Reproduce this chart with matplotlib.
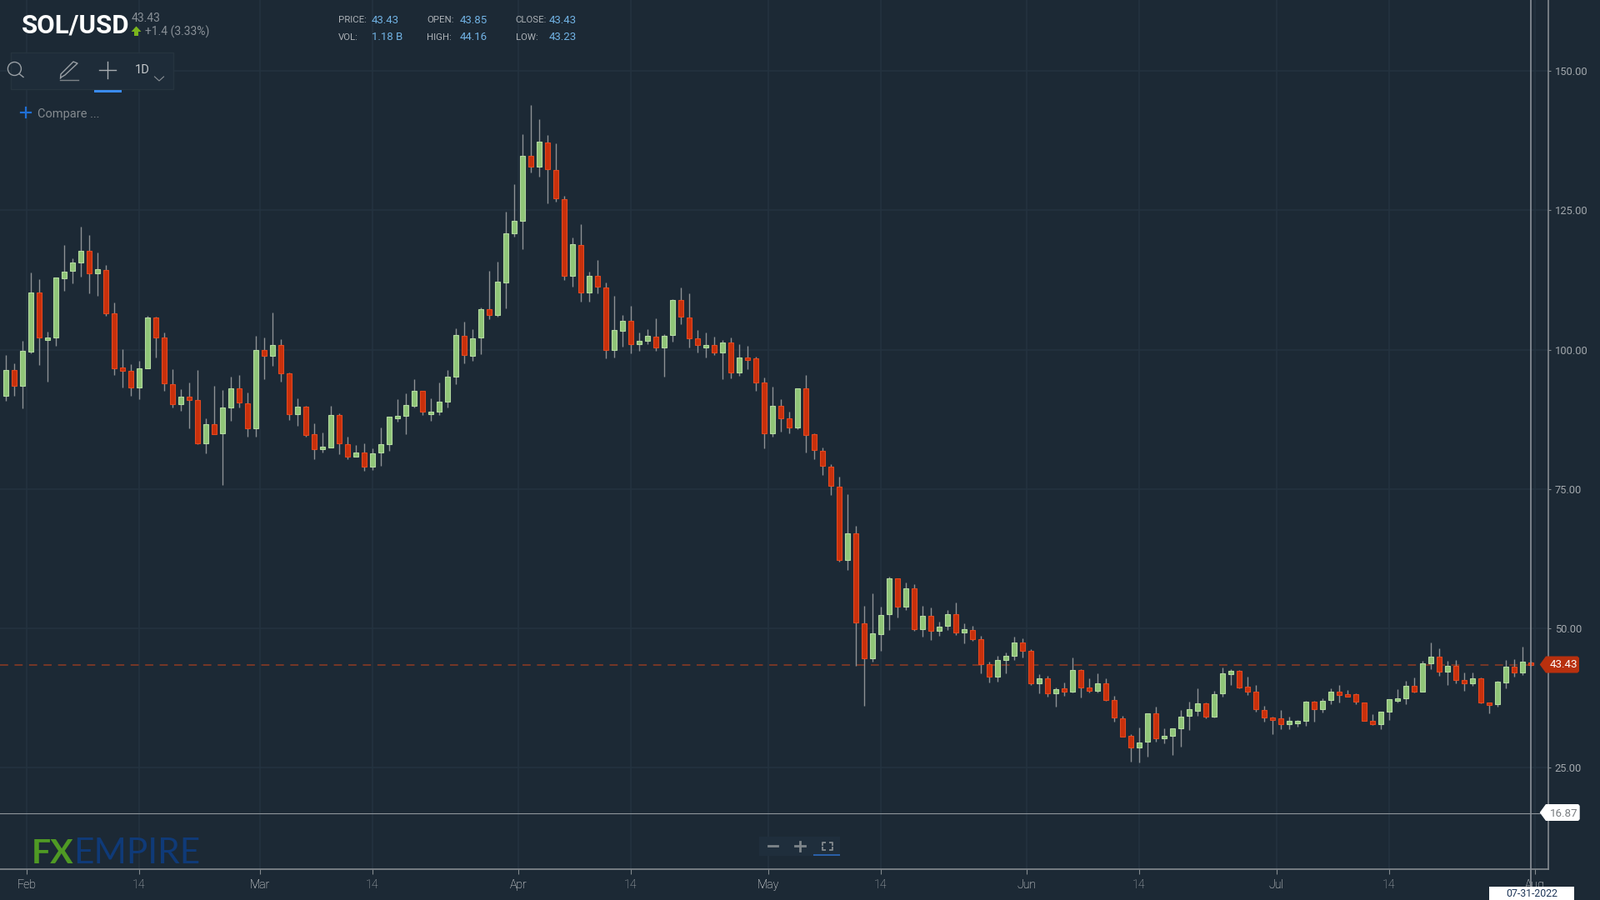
import matplotlib
matplotlib.use('Agg')
import matplotlib.pyplot as plt
from matplotlib.patches import Polygon, Rectangle, Circle

# Daily SOL/USD candles
opens = [91.67, 96.36, 93.51, 99.70, 110.23, 101.70, 102.15, 112.78, 114.12, 115.62, 117.72, 113.67, 114.32, 106.49, 96.76, 96.16,
         93.16, 96.71, 105.79, 102.20, 93.76, 90.17, 91.52, 90.97, 83.18, 86.63, 84.93, 89.62, 93.01, 90.37, 85.83, 99.95,
         98.95, 100.85, 95.81, 88.47, 89.82, 84.78, 82.14, 82.49, 88.32, 83.08, 80.79, 81.59, 78.94, 81.54, 83.03, 87.68,
         88.07, 89.92, 92.61, 88.42, 88.82, 90.67, 95.16, 102.54, 98.95, 102.15, 107.24, 106.19, 112.03, 120.86, 123.10, 134.73,
         132.83, 137.18, 132.29, 127.05, 113.17, 118.81, 110.18, 113.22, 111.13, 99.90, 103.44, 105.14, 101.00, 101.60, 102.35, 100.45,
         102.69, 108.93, 105.74, 102.00, 100.45, 100.90, 99.50, 101.25, 95.96, 98.60, 98.45, 94.11, 84.93, 89.87, 87.62, 86.02,
         93.01, 84.78, 81.78, 78.99, 75.45, 62.27, 67.01, 50.90, 44.66, 48.95, 52.54, 58.93, 53.84, 57.13, 49.90, 52.19,
         49.55, 50.50, 52.59, 49.30, 49.75, 48.10, 43.61, 41.31, 44.31, 45.01, 47.40, 45.91, 40.17, 41.02, 38.32, 39.17,
         38.62, 42.51, 39.32, 38.82, 40.07, 37.22, 33.93, 30.69, 28.59, 29.69, 34.83, 30.24, 30.79, 32.08, 34.33, 35.28,
         36.52, 34.13, 38.27, 41.81, 42.31, 39.52, 38.57, 35.38, 34.08, 33.88, 32.83, 33.03, 33.43, 36.92, 35.53, 37.17,
         38.57, 38.22, 38.22, 36.72, 33.48, 32.83, 35.08, 37.02, 37.52, 39.72, 38.67, 43.71, 44.96, 42.21, 43.21, 40.67,
         40.17, 41.02, 36.67, 36.42, 40.32, 43.06, 42.01, 43.85]
highs = [99.10, 97.61, 101.60, 113.87, 112.58, 103.24, 112.97, 118.81, 116.37, 122.11, 120.51, 117.47, 115.22, 108.48, 100.10, 97.46,
         98.05, 106.09, 105.89, 103.09, 96.51, 92.92, 94.06, 96.31, 87.68, 93.51, 92.77, 95.21, 95.41, 92.37, 102.50, 102.10,
         106.59, 101.90, 95.91, 91.27, 89.92, 86.78, 85.13, 89.92, 88.62, 84.33, 82.89, 83.18, 82.29, 86.03, 88.02, 91.12,
         92.22, 94.66, 92.66, 91.27, 94.11, 96.36, 103.84, 104.94, 103.64, 107.58, 114.07, 115.77, 124.75, 129.64, 138.62, 143.81,
         141.27, 138.42, 136.93, 127.54, 120.06, 122.55, 113.92, 116.12, 112.08, 109.58, 106.24, 107.88, 103.09, 103.64, 105.64, 102.84,
         108.98, 111.08, 110.13, 103.59, 103.09, 102.35, 101.75, 102.15, 101.00, 100.65, 98.75, 95.01, 93.36, 91.06, 88.87, 93.11,
         95.41, 84.93, 82.48, 79.49, 77.19, 74.05, 68.46, 53.99, 56.28, 53.84, 59.23, 58.98, 58.18, 57.98, 53.99, 53.69,
         51.24, 53.24, 54.59, 50.85, 50.45, 48.65, 43.96, 45.01, 45.61, 48.45, 48.20, 46.20, 41.71, 41.51, 39.42, 40.22,
         44.71, 42.61, 40.97, 41.86, 40.97, 37.97, 34.38, 31.04, 32.28, 34.83, 35.93, 32.13, 32.03, 35.33, 36.82, 39.22,
         36.77, 38.72, 42.96, 42.61, 42.46, 41.26, 39.77, 36.08, 34.18, 35.33, 34.23, 33.63, 36.97, 36.97, 37.52, 39.22,
         39.77, 38.87, 38.27, 36.77, 34.58, 35.08, 37.32, 39.02, 40.52, 41.11, 44.11, 47.45, 46.35, 44.11, 44.31, 42.01,
         42.01, 41.11, 36.77, 40.52, 44.31, 44.51, 46.75, 44.16]
lows = [90.77, 91.67, 89.42, 99.35, 97.26, 94.26, 100.65, 110.58, 111.88, 113.02, 110.03, 109.63, 106.09, 95.41, 93.16, 91.67,
        91.12, 96.66, 98.55, 92.57, 89.62, 89.07, 85.83, 83.08, 81.39, 84.78, 75.65, 87.18, 89.62, 84.38, 84.38, 94.66,
        97.11, 94.31, 87.38, 86.28, 84.38, 80.29, 81.59, 82.39, 81.19, 80.29, 80.74, 78.19, 78.39, 79.14, 81.79, 87.03,
        84.78, 89.57, 88.32, 87.18, 88.32, 89.62, 93.76, 97.50, 98.05, 99.15, 105.49, 105.89, 107.39, 120.26, 118.01, 131.74,
        130.99, 126.30, 126.50, 112.43, 111.33, 108.53, 108.53, 110.03, 98.40, 98.60, 100.50, 99.35, 99.85, 101.05, 99.85, 95.11,
        101.40, 104.59, 100.35, 99.55, 98.60, 99.00, 94.71, 94.86, 95.26, 96.56, 92.61, 82.33, 84.38, 85.33, 84.93, 85.68,
        81.58, 80.29, 77.44, 73.90, 61.92, 60.43, 43.21, 36.12, 43.96, 46.01, 49.75, 51.99, 53.34, 49.60, 48.45, 47.85,
        48.60, 49.75, 48.85, 47.35, 47.70, 41.86, 40.22, 40.42, 41.91, 44.31, 44.71, 39.87, 38.37, 37.77, 35.88, 37.92,
        38.52, 37.62, 38.52, 38.52, 37.02, 33.28, 30.59, 26.14, 26.00, 26.94, 29.74, 29.34, 27.29, 28.79, 31.78, 34.38,
        33.83, 34.03, 37.77, 39.82, 39.27, 38.12, 35.13, 33.28, 30.99, 31.93, 31.93, 32.33, 32.48, 33.28, 34.93, 36.42,
        36.67, 37.72, 36.42, 33.43, 32.68, 31.98, 33.63, 36.67, 36.42, 38.47, 38.67, 42.66, 41.51, 39.87, 40.17, 38.72,
        39.62, 36.62, 34.78, 35.88, 39.27, 41.31, 41.66, 43.23]
closes = [96.36, 93.51, 99.75, 110.23, 102.15, 102.20, 112.88, 113.97, 115.67, 117.77, 113.67, 114.37, 106.44, 96.71, 96.16, 93.16,
          96.61, 105.79, 102.15, 93.91, 90.17, 91.52, 90.92, 83.18, 86.63, 84.88, 89.62, 93.01, 90.52, 85.83, 99.90, 98.95,
          100.85, 95.76, 88.47, 89.82, 84.73, 82.14, 82.54, 88.32, 83.23, 80.79, 81.59, 78.94, 81.44, 83.08, 87.93, 88.12,
          90.07, 92.61, 88.82, 88.92, 90.62, 95.11, 102.59, 99.00, 102.00, 107.29, 106.19, 112.13, 120.91, 123.15, 134.73, 132.83,
          137.23, 132.43, 127.20, 113.17, 118.86, 110.18, 113.22, 111.28, 99.90, 103.49, 105.14, 101.00, 101.60, 102.40, 100.45, 102.54,
          108.93, 105.89, 101.95, 100.80, 100.90, 99.50, 101.25, 95.96, 98.60, 98.20, 94.06, 84.93, 89.87, 87.72, 86.02, 93.01,
          84.73, 81.93, 79.09, 75.55, 62.27, 67.01, 51.05, 44.66, 49.05, 52.44, 58.98, 53.84, 57.13, 49.90, 52.19, 49.55,
          50.35, 52.59, 49.30, 49.80, 48.05, 43.56, 41.31, 44.36, 45.11, 47.40, 46.01, 40.17, 41.02, 38.32, 39.12, 38.67,
          42.51, 39.42, 38.77, 40.07, 37.17, 34.03, 30.64, 28.59, 29.59, 34.83, 30.29, 30.74, 32.03, 34.23, 35.43, 36.52,
          34.18, 38.22, 41.96, 42.31, 39.37, 38.67, 35.48, 33.98, 33.58, 32.83, 33.48, 33.48, 36.92, 35.48, 37.07, 38.57,
          38.07, 37.72, 36.82, 33.43, 32.83, 35.03, 37.27, 37.47, 39.72, 38.67, 43.66, 44.96, 42.21, 43.21, 40.72, 40.17,
          41.02, 36.77, 36.22, 40.47, 43.06, 42.01, 44.01, 43.43]

y_ticks = [25, 50, 75, 100, 125, 150]
x_ticks = [2.5, 16, 30.5, 44, 61.5, 75, 91.5, 105, 122.5, 136, 152.5, 166, 183.5]
x_labels = ['Feb', '14', 'Mar', '14', 'Apr', '14', 'May', '14', 'Jun', '14', 'Jul', '14', 'Aug']
last_price = 43.43
low_marker = 16.87
cursor_day = 183

bg = '#1c2935'
grid = '#243340'
axis_col = '#858b90'

fig = plt.figure(figsize=(19.2, 10.8), dpi=100, facecolor=bg)
# plot area runs from the top left corner to the two axis lines
ax = fig.add_axes([0, 1 - 1043.3 / 1080, 1858 / 1920, 1043.3 / 1080], facecolor=bg)
ax.set_xlim(-0.667, 185.13)
ax.set_ylim(6.76, 162.71)

ax.set_yticks(y_ticks)
ax.set_yticklabels(['%.2f' % v for v in y_ticks], fontfamily='Roboto', fontsize=9.3, color='#a4a9ae', va='center_baseline')
ax.yaxis.tick_right()
ax.tick_params(axis='y', length=2.2, width=0.8, color=axis_col, pad=3.4)
ax.set_xticks(x_ticks)
ax.set_xticklabels(x_labels, fontfamily='Roboto', fontweight='light', fontsize=10.2)
for lbl, txt in zip(ax.get_xticklabels(), x_labels):
    lbl.set_color('#b5babd' if txt == '14' else 'white')
ax.tick_params(axis='x', length=4.3, width=0.8, color=axis_col, pad=3.8)
ax.grid(True, color=grid, linewidth=1.1)
ax.set_axisbelow(True)
for side in ['top', 'left']:
    ax.spines[side].set_visible(False)
for side in ['right', 'bottom']:
    ax.spines[side].set_color(axis_col)
    ax.spines[side].set_linewidth(1.2)

# Price and marker lines
ax.axhline(last_price, xmax=1843 / 1858, color='#8f3a22', linewidth=1.1, linestyle=(0, (6.4, 5)), zorder=1.5)
ax.axhline(low_marker, xmax=1848 / 1858, color='#8f969c', linewidth=0.8, zorder=1.5)

# Candles
days = list(range(len(opens)))
up_days = [d for d in days if closes[d] >= opens[d]]
down_days = [d for d in days if closes[d] < opens[d]]
ax.vlines(days, lows, highs, color='#8d9195', linewidth=1.0, zorder=2)
ax.bar(up_days, [closes[d] - opens[d] for d in up_days], bottom=[opens[d] for d in up_days], width=0.58,
       color='#90c578', edgecolor='#b3d9a0', linewidth=0.8, zorder=3)
ax.bar(down_days, [opens[d] - closes[d] for d in down_days], bottom=[closes[d] for d in down_days], width=0.58,
       color='#c8300c', edgecolor='#e3481f', linewidth=0.8, zorder=3)

# Crosshair, runs past the axis down to the date box
ax.axvline(cursor_day, ymin=-0.02, ymax=1, color='#8b9299', linewidth=1.2, clip_on=False, zorder=4)

# Overlay in screen pixels for the header and the widgets
ui = fig.add_axes([0, 0, 1, 1])
ui.set_xlim(0, 1920)
ui.set_ylim(1080, 0)
ui.axis('off')


def label(x, y, s, size, color, ha='left', **kw):
    ui.text(x, y, s, fontsize=size, color=color, ha=ha, va='center', fontfamily=kw.pop('fontfamily', 'Roboto'), **kw)


label(25.5, 30, 'SOL/USD', 22.5, 'white', fontweight='bold')
label(158, 21.5, '43.43', 10, '#8a9198')
label(173.5, 38, '+1.4 (3.33%)', 10, '#8a9198')
ui.add_patch(Polygon([[163.5, 31.5], [169.5, 38], [166, 38], [166, 43], [161, 43], [161, 38], [157.5, 38]], color='#7ab51d', lw=0))

stats = [(406, 24, 'PRICE:', 446, '43.43'), (512, 24, 'OPEN:', 552, '43.85'), (618.5, 24, 'CLOSE:', 659, '43.43'),
         (406, 45, 'VOL:', 446, '1.18 B'), (512, 45, 'HIGH:', 552, '44.16'), (618.5, 45, 'LOW:', 659, '43.23')]
for x0, y0, name, x1, val in stats:
    label(x0, y0, name, 8.2, '#aeb3b8')
    label(x1, y0, val, 9.5, '#72b4e6')

# Toolbar
ui.add_patch(Rectangle((13, 63), 194.5, 44, facecolor='#1e2c39', edgecolor='#26343f', lw=1))
ui.add_patch(Circle((17.4, 82.5), 8, fill=False, edgecolor='#9aa0a5', lw=1))
ui.plot([23, 28], [88.5, 92.5], color='#9aa0a5', lw=1)
ui.plot([73, 78, 93, 88, 73, 72.5], [93, 90, 76, 74, 89, 94], color='#9aa0a5', lw=1)
ui.plot([72, 94], [95.5, 95.5], color='#7d8388', lw=1)
ui.plot([119, 139], [84, 84], color='#a9aeb2', lw=1)
ui.plot([129, 129], [74, 94], color='#a9aeb2', lw=1)
label(170.5, 84, '1D', 10.5, '#c6cacd', ha='center')
ui.plot([185.5, 191, 196.5], [92, 97, 92], color='#8a9096', lw=0.8)
ui.add_patch(Rectangle((113, 108), 33, 3, color='#3a8bf0', lw=0))
ui.plot([25, 37], [135, 135], color='#1f6fd6', lw=1.6)
ui.plot([31, 31], [129, 141], color='#1f6fd6', lw=1.6)
label(45, 137, 'Compare ...', 10.5, '#858b90')

# Logo
label(38, 1024, 'FX', 29.5, '#4f9a24', fontfamily='Lato', fontweight='bold')
label(88.5, 1024, 'EMPIRE', 30.5, '#0f3a78', fontfamily='Lato')

# Zoom buttons
ui.add_patch(Rectangle((910.7, 1004), 97.3, 22.7, color='#1f2e3c', lw=0))
ui.plot([921.5, 933], [1015.3, 1015.3], color='#7e858a', lw=2)
ui.plot([954, 966], [1015.3, 1015.3], color='#7e858a', lw=2)
ui.plot([960, 960], [1009.5, 1021], color='#7e858a', lw=2)
for cx, cy, dx, dy in [(986.5, 1010.5, 1, 1), (999, 1010.5, -1, 1), (986.5, 1019.5, 1, -1), (999, 1019.5, -1, -1)]:
    ui.plot([cx + 3.5 * dx, cx, cx], [cy, cy, cy + 3 * dy], color='#7e858a', lw=1.4)
ui.add_patch(Rectangle((976, 1025), 32, 2, color='#2a5fa8', lw=0))

# Price tags on the right axis
ui.add_patch(Polygon([[1847.7, 797.5], [1855, 787.5], [1893, 787.5], [1895, 789.5], [1895, 805.5], [1893, 807.5], [1855, 807.5]],
                     color='#b8300e', lw=0))
label(1876.7, 797.5, '43.43', 9.6, 'white', ha='center')
ui.add_patch(Polygon([[1847.7, 975], [1855, 965], [1894, 965], [1895.7, 967], [1895.7, 983], [1894, 985], [1855, 985]],
                     color='white', lw=0))
label(1876.7, 976, '16.87', 9.6, '#777b7f', ha='center')

# Date box under the crosshair
ui.add_patch(Rectangle((1787, 1064), 102, 16, color='white', lw=0))
label(1838, 1072.3, '07-31-2022', 8.8, '#1d3557', ha='center')

fig.savefig('out.png', dpi=100, facecolor=bg)
